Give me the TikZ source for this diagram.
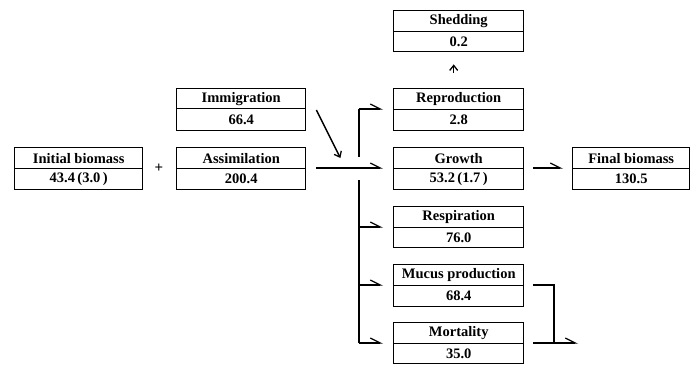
\documentclass[tikz,border=0pt]{standalone}
\usepackage{fontspec}
\setmainfont{Liberation Serif}
\usetikzlibrary{arrows.meta,calc}
\tikzset{
  cell/.style={draw, line width=1.4pt, inner sep=0pt, font=\fontsize{14.5}{15}\selectfont\bfseries, anchor=north west},
  conn/.style={line width=1.4pt},
  harp/.style={conn, -{Straight Barb[harpoon, length=10pt, width=10pt, line width=1.3pt]}},
  arr/.style={conn, -{Straight Barb[length=5pt, width=8pt, line width=1.3pt]}}
}
\newcommand\flowbox[8]{%
  \node[cell, minimum width=#3, minimum height=#5-#4] (#1-t) at (#2,#4) {#7};
  \node[cell, minimum width=#3, minimum height=#6-#5] (#1-b) at (#2,#5) {#8};
}
\begin{document}
\begin{tikzpicture}[x=1pt,y=-1pt]
\useasboundingbox (0,0) rectangle (690,364);
% boxes: name, xl, width, ytop, ymid, ybot, title, value
\flowbox{init}{14}{128pt}{147}{168}{189}{Initial biomass}{43.4\,(3.0\,)}
\flowbox{assim}{176}{129pt}{147}{168}{189}{Assimilation}{200.4}
\flowbox{immig}{176}{129pt}{88}{108}{130}{Immigration}{66.4}
\flowbox{shed}{393}{130pt}{10}{31}{51}{Shedding}{0.2}
\flowbox{repro}{393}{130pt}{88}{109}{130}{Reproduction}{2.8}
\flowbox{growth}{393}{130pt}{147}{168}{189}{Growth}{53.2\,(1.7\,)}
\flowbox{final}{572}{117pt}{147}{168}{189}{Final biomass}{130.5}
\flowbox{resp}{393}{130pt}{206}{227}{247}{Respiration}{76.0}
\flowbox{mucus}{393}{130pt}{264}{285}{306}{Mucus production}{68.4}
\flowbox{mort}{393}{130pt}{322}{343}{363}{Mortality}{35.0}
\node[font=\fontsize{15}{15}\selectfont\bfseries] (plus) at (159,168) {+};
% main flow
\draw[harp, shorten <=10pt, shorten >=10pt] (assim-b.north east) -- (growth-b.north west);
\draw[arr] ($(immig-b.north east)+(10,2)$) -- ($(assim-b.north east)+(34,-10)$);
% trunk
\coordinate (trtop) at (359,109);
\coordinate (gapA) at (359,157);
\coordinate (gapB) at (359,180);
\coordinate (trbot) at (359,343);
\draw[conn] (trtop) -- (gapA);
\draw[conn] (gapB) -- (trbot);
\draw[harp, shorten >=10pt] (trtop) -- (repro-b.north west);
\draw[harp, shorten >=10pt] (trtop |- resp-b.north west) -- (resp-b.north west);
\draw[harp, shorten >=10pt] (trtop |- mucus-b.north west) -- (mucus-b.north west);
\draw[harp, shorten >=10pt] (trbot) -- (mort-b.north west);
% shedding
\draw[arr, shorten <=15pt, shorten >=12pt] ($(repro-t.north)+(-5,0)$) -- ($(shed-b.south)+(-5,0)$);
% growth to final
\draw[harp, shorten <=9pt, shorten >=9pt] (growth-b.north east) -- (final-b.north west);
% mucus and mortality out
\coordinate (mj) at (554,343);
\coordinate (mortend) at (578,343);
\draw[conn] ($(mucus-b.north east)+(9,0)$) -| (mj);
\draw[harp] ($(mort-b.north east)+(9,0)$) -- (mortend);
\end{tikzpicture}
\end{document}
